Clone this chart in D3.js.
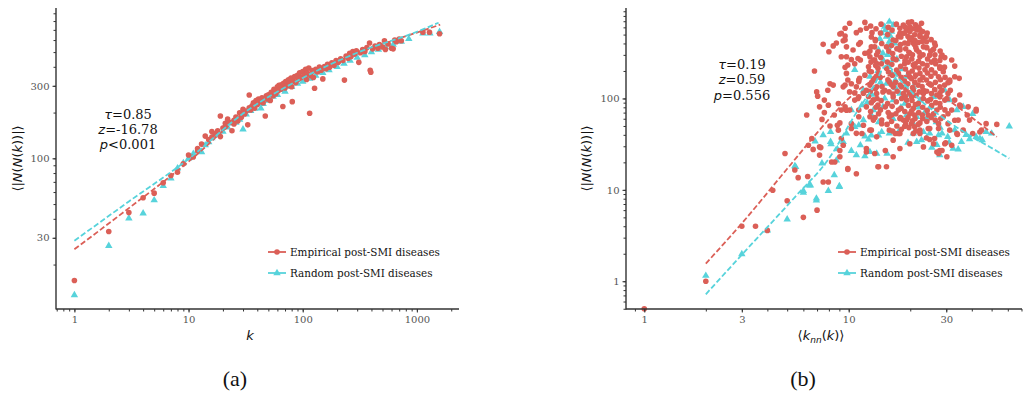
<!DOCTYPE html>
<html>
<head>
<meta charset="utf-8">
<script src="https://cdn.jsdelivr.net/npm/d3@7"></script>
<style>
  body { margin: 0; background: #fff; }
</style>
</head>
<body>
<div id="chart"></div>
<script>
// Colours (seaborn "hls" pair)
const RED = "#db5f57";
const CYAN = "#57d3db";
const SERIF = "'DejaVu Serif', serif";
const SANS = "'DejaVu Sans', sans-serif";

// ---- Panel (a): k vs <|N(N(k))|> ----
const empiricalA = [
  [1,15.7],[2,33],[3,44],[4,55],[5,59],[6,69],[7,77],[8,81],[9,92],[10,105],[11,102],[12,116],[12,112],
  [13,124],[14,140],[15,133],[16,150],[16,138],[17,145],[18,152],[19,190],[19,139],[20,158],[21,170],
  [21,162],[22,181],[23,172],[24,152],[25,178],[25,168],[26,187],[27,176],[28,199],[29,186],[30,210],
  [31,196],[32,205],[33,166],[34,261],[34,215],[35,208],[36,222],[37,232],[38,214],[39,240],[40,226],
  [41,245],[42,236],[44,250],[45,232],[47,190],[48,258],[49,246],[50,262],[52,240],[53,272],[55,258],
  [56,284],[58,266],[60,295],[61,278],[62,302],[64,285],[65,305],[67,219],[68,312],[70,290],[71,320],
  [73,300],[75,328],[77,310],[79,338],[80,296],[81,236],[83,322],[85,345],[87,315],[90,352],[92,332],
  [94,365],[97,340],[100,372],[103,355],[106,385],[108,330],[110,362],[113,392],[115,198],[118,350],
  [121,378],[124,340],[127,289],[130,385],[135,370],[140,398],[145,380],[150,333],[155,402],[160,388],
  [165,415],[172,398],[180,425],[188,410],[196,440],[205,428],[215,452],[225,440],[232,327],[240,470],
  [250,455],[258,490],[265,468],[275,505],[285,485],[295,510],[310,428],[320,495],[335,520],[350,505],
  [365,535],[385,574],[390,380],[395,368],[410,525],[430,548],[455,530],[470,560],[500,540],[520,594],
  [530,520],[560,565],[600,530],[620,525],[640,600],[660,585],[700,610],[730,594],[1130,676],[1290,676],
  [1580,660]
];
const randomA = [
  [1,12.6],[2,26.6],[3,40.3],[4,43.5],[5,53],[6,65.8],[7,73.8],[8,86],[9,93],[10,100],[11,107],[12,112],
  [13,110],[14,122],[15,128],[16,136],[18,142],[20,150],[22,160],[24,170],[26,172],[28,180],[30,155],
  [32,195],[35,205],[38,212],[43,213],[45,228],[50,240],[55,255],[60,262],[65,282],[70,275],[80,295],
  [90,310],[100,320],[115,335],[130,350],[150,365],[170,380],[200,400],[230,420],[260,440],[300,460],
  [350,478],[400,500],[460,520],[530,540],[620,560],[730,585],[850,610],[1130,664],[1300,664],[1580,680]
];
const fitEmpiricalA = [[1,25.2],[3,47],[10,95],[30,195],[100,335],[300,490],[1000,672],[1600,757]];
const fitRandomA = [[1,28.7],[3,52],[10,99],[30,197],[100,338],[300,495],[1000,680],[1550,780]];
const xTicksA = [1, 10, 100, 1000];
const yTicksA = [30, 100, 300];
const statsA = [["τ", "=0.85"], ["z", "=-16.78"], ["p", "<0.001"]];

// ---- Panel (b): <k_nn(k)> vs <|N(N(k))|> ----
const empiricalB = [
  [1,0.5],[2,1],[3,4],[3.5,4],[4,3.6],[4.25,9.9],[4.88,25],[5,7.6],[5.45,16.5],[5.66,13.6],[6,5],[6.3,14],
  [6.23,66],[6.8,200],[6.6,36.5],[6.35,30.8],[6.7,27.7],[7,6],[6.97,118],[7.05,106],[7.2,81],[7.6,70],
  [7.4,59],[7.2,29.5],[7.2,24],[7.3,29],[7.5,12.2],[7.95,12.2],[7.5,391],[8.4,376],[8.0,325],[8.1,50],
  [8.1,145],[8.4,140],[7.9,123],[7.95,84.5],[7.6,96],[8.5,66],[8.8,51],[8.9,88],[8.9,45],[9.05,54],
  [9.2,36.5],[9.4,30.8],[9.05,27],[9.05,23],[8.55,20.2],[8.25,20.2],[9.9,17.1],[9.9,16.7],[10.9,15],
  [8.7,404],[9.05,507],[9.6,482],[9.4,428],[9.2,518],[9.6,436],[9.6,586],[9.75,286],[9.2,286],[9.75,367],
  [9.75,188],[9.4,134],[9.9,159],[9.9,232],[9.6,219],[9.6,140],[9.2,74.6],[9.75,74.5],[9.6,81],[10.1,665],
  [12,680],[10.9,525],[11.4,562],[12.2,586],[13,525],[13.5,428],[11.2,391],[11.4,410],[12.4,315],
  [10.3,266],[10.7,240],[11.4,264],[10.5,339],[11.1,274],[12,312],[12.9,367],[10.1,118],[10.7,115],
  [11.2,153],[10.3,145],[10.3,47],[10.9,41.5],[10.3,53],[10.1,74.6],[10.7,96],[11.2,74.6],[11.2,104],
  [11.2,159],[10.9,134],[11.2,63],[11.6,41.4],[11.8,51],[12.2,81],[12.2,28.3],[12.2,123],[12.2,26],
  [12.5,222],[12.7,45],[12.7,63],[12.9,45],[13.2,58],[13.2,96],[13.2,159],[13.4,264],[13.4,367],
  [13.9,325],[12.7,286],[13.2,264],[13.7,241],[13.9,214],[12.9,196],[12.0,180],[11.3,166],[13.4,166],
  [12.7,140],[13.7,134],[11.8,114],[12.5,105],[13.2,96],[13.9,84.5],[11.1,100],[13.7,38],[13.7,113],
  [13.4,25],[13.9,17.9],[14,188],[14,68],[14,17.9],[14.5,53],[14.7,118],[15.1,81],[15.1,27],[15.3,17.9],
  [15,123],[15.3,367],[15.3,214],[15.8,152],[15.8,45],[15.8,63],[16.2,66],[16.5,436],[16.5,274],
  [16.5,134],[16.5,104],[16.5,23],[16.5,35],[16.9,41.4],[17.5,188],[17.5,475],[17.5,74.6],[17.5,41.4],
  [17.8,518],[17.8,352],[17.8,586],[17.8,339],[17.8,60],[17.8,41.4],[17.8,28.3],[18.1,134],[18.5,635],
  [18.5,518],[18.5,113],[18.5,58],[18.8,241],[18.8,404],[18.8,49.6],[19.2,96],[19.2,58],[19.2,286],
  [19.2,563],[19.5,475],[19.9,610],[19.9,312],[19.9,173],[19.9,436],[19.9,539],[19.9,68],[19.9,32],
  [20.3,692],[20.3,104],[20.3,53],[20.7,404],[20.7,123],[20.7,78],[20.7,233],[20.7,41.4],[21,222],
  [21,497],[21,66],[21,386],[21,49],[21.5,563],[21.5,339],[21.5,610],[21.9,88],[22.3,475],[22.3,286],
  [22.3,159],[22.3,54],[22.3,45],[22.3,188],[22.3,497],[22.3,563],[22.3,41.4],[22.7,665],[23,60],
  [23.2,367],[23.2,113],[23.2,123],[23.2,455],[23.2,29.5],[23.6,206],[24,418],[24,37],[24,480],[24,159],
  [24.5,47],[24.5,66],[24.9,145],[24.9,298],[24.9,35.5],[24.9,47],[25.4,206],[25.4,113],[26,346],[26,68],
  [26,32],[26.3,264],[26.3,404],[26.3,36.5],[27,109],[27,74.6],[27,26],[27.5,53],[27.5,173],[27.5,47],
  [27.5,25],[27.9,214],[27.9,88],[27.9,104],[27.9,222],[27.9,134],[27.9,27],[28.3,286],
  [28.6,123],[28.6,298],[28.6,27],[29,196],[29,63],[29.5,32],[29.5,96],[29.8,32.8],[30.2,100],
  [30.2,23],[30.6,68],[30.6,149],[30.6,113],[30.6,53],[31.2,152],[31.2,159],[31.2,45],[31.4,123],
  [31.9,264],[31.9,30.8],[31.9,74.6],[33,226],[33,57.8],[33,173],[33,96],[33.8,41.4],[34,40.3],[34.3,58],
  [34.7,166],[34.9,84.5],[34.9,109],[35.3,82],[36.3,45],[38,66],[38.4,81],[39,58],[40.4,41.4],[42,73],
  [42,76],[43.8,43],[44.6,45],[47,53],[53,52],
  // dense core of the cloud
  [12.8,620],[12.9,470],[12.7,330],[12.85,250],[12.6,200],[12.95,150],[12.75,120],[12.9,90],[12.8,72],
  [13.6,580],[13.5,440],[13.7,300],[13.55,230],[13.65,175],[13.5,128],[13.75,100],[13.6,80],[13.45,62],
  [14.4,650],[14.3,520],[14.5,400],[14.35,280],[14.45,240],[14.25,170],[14.55,135],[14.4,95],[14.3,75],[14.5,58],
  [15.6,600],[15.5,500],[15.7,330],[15.45,250],[15.65,195],[15.55,160],[15.75,118],[15.5,88],[15.6,70],[15.4,52],
  [16.3,560],[16.2,380],[16.4,310],[16.25,235],[16.35,180],[16.15,142],[16.45,112],[16.3,82],[16.2,56],[16.4,44],
  [17.1,650],[17.0,430],[17.2,350],[17.05,265],[17.15,205],[16.95,150],[17.25,120],[17.1,92],[17.0,68],[17.2,50],
  [18.0,470],[17.9,390],[18.1,290],[17.95,225],[18.05,170],[17.85,140],[18.15,100],[18.0,78],[17.9,62],[18.1,46],
  [18.9,600],[18.8,520],[19.0,350],[18.85,260],[18.95,210],[18.75,155],[19.05,125],[18.9,105],[18.8,72],[19.0,52],
  [19.6,680],[19.5,400],[19.7,320],[19.55,250],[19.65,190],[19.45,145],[19.75,115],[19.6,84],[19.5,62],[19.7,48],
  [20.4,580],[20.3,460],[20.5,300],[20.35,270],[20.45,200],[20.25,165],[20.55,132],[20.4,95],[20.3,73],[20.5,57],
  [21.2,640],[21.1,430],[21.3,360],[21.15,240],[21.25,180],[21.05,150],[21.35,108],[21.2,86],[21.1,60],[21.3,44],
  [22.0,600],[21.9,410],[22.1,320],[21.95,255],[22.05,215],[21.85,140],[22.15,118],[22.0,70],[21.9,52],
  [23.0,540],[22.9,420],[23.1,300],[22.95,240],[23.05,170],[22.85,135],[23.15,100],[23.0,80],[22.9,66],
  [24.2,520],[24.1,360],[24.3,270],[24.15,230],[24.25,190],[24.05,120],[24.35,94],[24.2,74],[24.1,56],
  [25.3,440],[25.2,330],[25.4,250],[25.25,175],[25.35,140],[25.15,98],[25.45,84],[25.3,62],
  [26.5,380],[26.4,300],[26.6,240],[26.45,190],[26.55,150],[26.35,125],[26.65,90],[26.5,58],
  [28.0,330],[27.9,260],[28.1,160],[27.95,115],[28.05,80],[28.2,60],
  [29.5,280],[29.4,220],[29.6,170],[29.45,140],[29.55,75]
];
const randomB = [
  [2.0,1.15],[3.0,1.98],[4.0,3.6],[5.0,4.77],[5.45,18.2],[5.5,17.9],[6.0,9.35],[6.0,9.75],[6.4,11.2],
  [6.5,11.2],[6.95,8.05],[6.95,7.7],[6.85,34],[7.4,19.5],[7.5,39.7],[7.95,9.75],[8.15,33.5],[8.15,43],
  [8.2,31.7],[8.5,14.5],[8.7,21],[8.8,28],[9.0,11],[9.0,10.8],[9.4,33.5],[9.75,41.4],[10.3,26.8],
  [10.3,74.6],[10.7,49],[10.7,206],[10.9,24],[11.2,51],[11.4,30.8],[11.6,84.5],[11.8,58],[11.8,123],
  [12,23.4],[12,38.6],[12.5,35.6],[12.7,26],[12.7,173],[12.9,66],[12.9,39.6],[13.2,74.6],[13.7,25],
  [13.7,241],[14,39.6],[14,339],[14.5,43],[14.5,518],[14.7,81],[14.7,312],[15,610],[15.3,475],[15.3,145],
  [15.4,25],[15.6,222],[15.6,367],[15.8,41.4],[15.8,692],[15.8,418],[16.2,539],[16.5,96],[16.5,264],
  [16.5,635],[16.9,159],[17.5,43],[17.5,352],[17.8,113],[18.8,88],[19.2,66],[19.2,173],[19.5,32.8],
  [20.7,41.4],[20.7,134],[21.5,33.5],[21.5,63],[22.3,96],[22.7,35],[23.2,43],[24,37],[24,60],[24.9,41.4],
  [25.4,81],[26,104],[26,66],[27.5,39.7],[27.9,24],[28.6,41.4],[29.5,123],[31.2,96],[32.4,28.3],
  [33.8,74.6],[34.3,27.7],[35.6,33.5],[36.3,81],[40.4,68],[42,38],[43.8,36.5],[47,43],[50,41.4],[61,49.6],
  [14.2,450],[15.1,560],[16,480],[16.8,400],[15.5,300],[17.2,270],[14.8,260],[13.9,200],[16.2,190],
  [18.2,210],[17,130],[14.3,150],[19,140],[20,110],[15,100],[13,110],[18,80],[22,80],[20.5,55],[16.5,60],
  [14,55],[12.3,90],[23.5,70],[26.8,55],[28,48],[30.5,38],[33,45],[37.5,40],[39,36],[45,35],[27,31],
  [25.5,29],[31,33]
];
const fitEmpiricalB = [[2,1.56],[3,4.3],[5,17],[7,42],[10,100],[13,155],[17,180],[22,160],[30,100],[40,62],[53,38]];
const fitRandomB = [[2,0.72],[3,1.95],[5.5,8.5],[8,22],[10.9,70],[13.2,134],[15.3,230],[17.8,160],[21.5,104],[30,58],[40,38],[49,29.5],[61,22]];
const xTicksB = [1, 3, 10, 30];
const yTicksB = [1, 10, 100];
const statsB = [["τ", "=0.19"], ["z", "=0.59"], ["p", "=0.556"]];

const legendLabels = ["Empirical post-SMI diseases", "Random post-SMI diseases"];

const svg = d3.select("#chart").append("svg")
  .attr("width", 1023)
  .attr("height", 394);

const tri = d3.symbol(d3.symbolTriangle, 24);

function drawPanel(cfg) {
  const x = d3.scaleLog().domain(cfg.xDomain).range([cfg.left, cfg.right]);
  const y = d3.scaleLog().domain(cfg.yDomain).range([cfg.bottom, cfg.top]);
  const g = svg.append("g");

  const line = d3.line()
    .x(d => x(d[0]))
    .y(d => y(d[1]))
    .curve(d3.curveMonotoneX);

  // points
  g.append("g").selectAll("path")
    .data(cfg.random)
    .join("path")
    .attr("d", tri)
    .attr("transform", d => `translate(${x(d[0])},${y(d[1])})`)
    .attr("fill", CYAN);

  g.append("g").selectAll("circle")
    .data(cfg.empirical)
    .join("circle")
    .attr("cx", d => x(d[0]))
    .attr("cy", d => y(d[1]))
    .attr("r", 2.8)
    .attr("fill", RED);

  // fitted trends
  g.append("path").datum(cfg.fitEmp)
    .attr("d", line)
    .attr("fill", "none")
    .attr("stroke", RED)
    .attr("stroke-width", 1.8)
    .attr("stroke-dasharray", "5.5,2.5");

  g.append("path").datum(cfg.fitRnd)
    .attr("d", line)
    .attr("fill", "none")
    .attr("stroke", CYAN)
    .attr("stroke-width", 1.8)
    .attr("stroke-dasharray", "5.5,2.5");

  // axes: minor ticks then labelled ticks
  const xMinor = g.append("g").attr("transform", `translate(0,${cfg.bottom})`)
    .call(d3.axisBottom(x).tickValues(x.ticks()).tickSize(2.5).tickFormat(""));
  const xMajor = g.append("g").attr("transform", `translate(0,${cfg.bottom})`)
    .call(d3.axisBottom(x).tickValues(cfg.xTicks).tickSize(3.5).tickPadding(3.5).tickFormat(d3.format("")));
  const yMinor = g.append("g").attr("transform", `translate(${cfg.left},0)`)
    .call(d3.axisLeft(y).tickValues(y.ticks()).tickSize(2.5).tickFormat(""));
  const yMajor = g.append("g").attr("transform", `translate(${cfg.left},0)`)
    .call(d3.axisLeft(y).tickValues(cfg.yTicks).tickSize(3.5).tickPadding(3).tickFormat(d3.format("")));

  [xMinor, xMajor, yMinor, yMajor].forEach(a => {
    a.select(".domain").remove();
    a.selectAll(".tick line").attr("stroke", "#333").attr("stroke-width", 1);
    a.selectAll("text")
      .style("font-family", SERIF)
      .attr("font-size", 10)
      .attr("fill", "#555");
  });

  // spines
  g.append("line")
    .attr("x1", cfg.left).attr("x2", cfg.left)
    .attr("y1", cfg.top).attr("y2", cfg.bottom + 0.6)
    .attr("stroke", "#333").attr("stroke-width", 1.4);
  g.append("line")
    .attr("x1", cfg.left).attr("x2", cfg.right)
    .attr("y1", cfg.bottom).attr("y2", cfg.bottom)
    .attr("stroke", "#333").attr("stroke-width", 1.4);

  // y title  <|N(N(k))|>
  const yt = g.append("text")
    .attr("transform", `translate(${cfg.yTitleX},${(cfg.top + cfg.bottom) / 2}) rotate(-90)`)
    .attr("text-anchor", "middle")
    .attr("dominant-baseline", "central")
    .style("font-family", SANS)
    .attr("font-size", 13)
    .attr("fill", "#111");
  [["\u27E8|", false], ["N", true], ["(", false], ["N", true], ["(", false], ["k", true], [")", false], [")|\u27E9", false]]
    .forEach(([t, it]) => yt.append("tspan").text(t).attr("font-style", it ? "italic" : "normal"));

  // x title
  const xt = g.append("text")
    .attr("x", cfg.xTitleX)
    .attr("y", 340)
    .attr("text-anchor", "middle")
    .style("font-family", SANS)
    .attr("font-size", 13)
    .attr("fill", "#111");
  if (cfg.knn) {
    xt.append("tspan").text("\u27E8");
    xt.append("tspan").text("k").attr("font-style", "italic");
    xt.append("tspan").text("nn").attr("font-style", "italic").attr("font-size", 9).attr("dy", 3);
    xt.append("tspan").text("(").attr("dy", -3);
    xt.append("tspan").text("k").attr("font-style", "italic");
    xt.append("tspan").text(")\u27E9");
  } else {
    xt.append("tspan").text("k").attr("font-style", "italic");
  }

  // statistics block
  cfg.stats.forEach(([sym, rest], i) => {
    const t = g.append("text")
      .attr("x", cfg.statsX)
      .attr("y", cfg.statsY + i * 15.3)
      .attr("text-anchor", "middle")
      .style("font-family", SERIF)
      .attr("font-size", 13)
      .attr("fill", "#111");
    t.append("tspan").text(sym).style("font-family", SANS).attr("font-style", "italic");
    t.append("tspan").text(rest).style("font-family", SERIF);
  });

  // legend
  const lg = g.append("g").attr("transform", `translate(${cfg.legendX},252)`);
  [RED, CYAN].forEach((c, i) => {
    const row = lg.append("g").attr("transform", `translate(0,${i * 21})`);
    row.append("line").attr("x1", 0).attr("x2", 18).attr("stroke", c).attr("stroke-width", 1.8);
    if (i === 0) row.append("circle").attr("cx", 9).attr("r", 2.8).attr("fill", c);
    else row.append("path").attr("d", tri).attr("transform", "translate(9,0)").attr("fill", c);
    row.append("text").attr("x", 22).attr("y", 3.7)
      .style("font-family", SERIF)
      .attr("font-size", 10.4)
      .attr("fill", "#111")
      .text(legendLabels[i]);
  });

  // caption
  svg.append("text")
    .attr("x", cfg.captionX)
    .attr("y", 386)
    .attr("text-anchor", "middle")
    .style("font-family", "'Liberation Serif', serif")
    .attr("font-size", 22)
    .attr("fill", "#111")
    .text(cfg.caption);
}

drawPanel({
  xDomain: [0.69, 2339], yDomain: [10.2, 975],
  left: 56, right: 459, top: 8, bottom: 309,
  empirical: empiricalA, random: randomA, fitEmp: fitEmpiricalA, fitRnd: fitRandomA,
  xTicks: xTicksA, yTicks: yTicksA, stats: statsA,
  statsX: 128, statsY: 118.5, legendX: 268,
  yTitleX: 17, xTitleX: 250, knn: false,
  caption: "(a)", captionX: 235
});

drawPanel({
  xDomain: [0.814, 70.4], yDomain: [0.497, 977],
  left: 626, right: 1022, top: 8, bottom: 309,
  empirical: empiricalB, random: randomB, fitEmp: fitEmpiricalB, fitRnd: fitRandomB,
  xTicks: xTicksB, yTicks: yTicksB, stats: statsB,
  statsX: 742, statsY: 69, legendX: 838,
  yTitleX: 586, xTitleX: 821, knn: true,
  caption: "(b)", captionX: 803
});
</script>
</body>
</html>
